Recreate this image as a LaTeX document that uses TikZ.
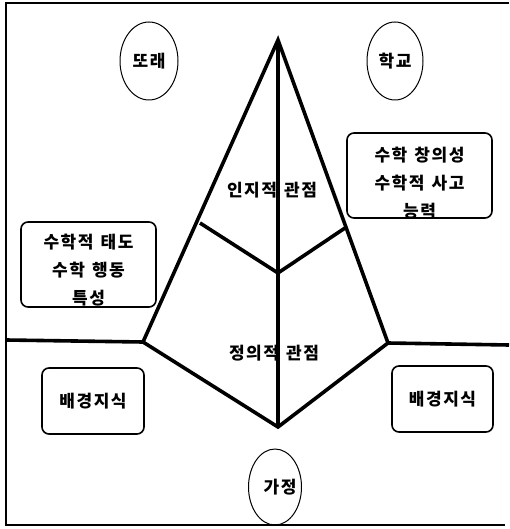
\documentclass[tikz,border=0pt]{standalone}
\usepackage{fontspec}
\setmainfont{Noto Sans CJK KR}[LetterSpace=9, WordSpace=1.3]
\usetikzlibrary{shapes.geometric}
\tikzset{
  heavy/.style={line width=3.6pt, line join=miter, line cap=butt},
  frameline/.style={line width=2.2pt},
  oval/.style={draw, ellipse, line width=1pt, inner sep=0pt},
  rbox/.style={draw, rounded corners=7pt, line width=1.6pt, inner sep=0pt},
  lbl/.style={font=\fontsize{17}{28}\selectfont\bfseries, align=center, inner sep=0pt}
}
\begin{document}
\begin{tikzpicture}[x=1pt,y=-1pt]
\useasboundingbox (0,0) rectangle (509,529);
% frame
\coordinate (ftr) at (509,3);
\coordinate (ftl) at (6,3);
\coordinate (fbl) at (6,525);
\coordinate (fbr) at (505,525);
\draw[frameline] (ftr) -- (ftl) -- (fbl) -- (fbr);
% pyramid points
\coordinate (apex) at (278,40);
\coordinate (lft) at (143,342);
\coordinate (rgt) at (388,343);
\coordinate (bot) at (278,427);
\coordinate (mid) at (278,273);
\coordinate (lj) at (200,223);
\coordinate (rj) at (345,228);
\coordinate (hl) at (6,340);
\coordinate (hr) at (509,345);
\draw[heavy] (hl) -- (lft) -- (apex) -- (rgt) -- (hr);
\draw[heavy] (lft) -- (bot) -- (rgt);
\draw[heavy] (apex) -- (bot);
\draw[heavy] (lj) -- (mid) -- (rj);
% labels in pyramid
\node[lbl] (cog) at (272,190) {인지적 관점};
\node[lbl] (aff) at (274,353) {정의적 관점};
% ellipses
\node[oval, minimum width=58pt, minimum height=78pt] (peer) at (149,61) {};
\node[lbl] (peert) at (149,61) {또래};
\node[oval, minimum width=56pt, minimum height=78pt] (school) at (395,61) {};
\node[lbl] (schoolt) at (395,61) {학교};
\node[oval, minimum width=53pt, minimum height=76pt] (home) at (275,487) {};
\node[lbl] (homet) at (280,487) {가정};
% boxes
\node[rbox, minimum width=145pt, minimum height=85pt] (rb) at (419.5,175.5) {};
\node[lbl] (rbt) at (419.5,183) {수학 창의성\\수학적 사고\\능력};
\node[rbox, minimum width=135pt, minimum height=85pt] (lb) at (88.5,264.5) {};
\node[lbl] (lbt) at (88.5,270) {수학적 태도\\수학 행동\\특성};
\node[rbox, minimum width=102pt, minimum height=66pt] (bl) at (93,401) {};
\node[lbl] (blt) at (93,401) {배경지식};
\node[rbox, minimum width=101pt, minimum height=66pt] (br) at (442.5,399) {};
\node[lbl] (brt) at (442.5,399) {배경지식};
\end{tikzpicture}
\end{document}
